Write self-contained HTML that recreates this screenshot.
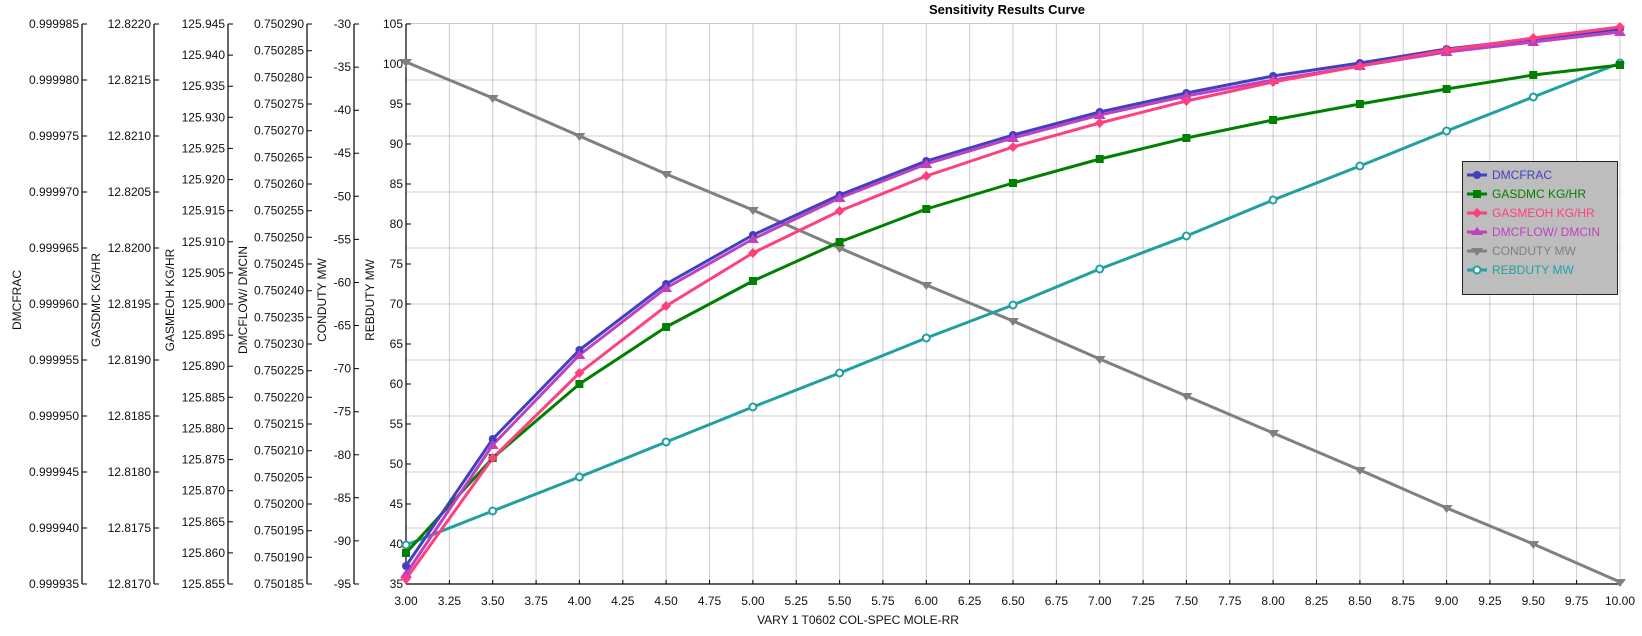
<!DOCTYPE html>
<html><head><meta charset="utf-8"><style>
html,body{margin:0;padding:0;background:#fff;}
svg{display:block;font-family:"Liberation Sans",sans-serif;}
</style></head><body>
<svg width="1642" height="636" viewBox="0 0 1642 636" xmlns="http://www.w3.org/2000/svg">
<rect width="1642" height="636" fill="#fff"/>
<text x="1007" y="14" text-anchor="middle" font-size="13" font-weight="bold">Sensitivity Results Curve</text>
<!-- grid -->
<g stroke="#cccccc" stroke-width="1">
<line x1="449.4" y1="23" x2="449.4" y2="584"/><line x1="492.7" y1="23" x2="492.7" y2="584"/><line x1="536.1" y1="23" x2="536.1" y2="584"/><line x1="579.4" y1="23" x2="579.4" y2="584"/><line x1="622.8" y1="23" x2="622.8" y2="584"/><line x1="666.1" y1="23" x2="666.1" y2="584"/><line x1="709.5" y1="23" x2="709.5" y2="584"/><line x1="752.9" y1="23" x2="752.9" y2="584"/><line x1="796.2" y1="23" x2="796.2" y2="584"/><line x1="839.6" y1="23" x2="839.6" y2="584"/><line x1="882.9" y1="23" x2="882.9" y2="584"/><line x1="926.3" y1="23" x2="926.3" y2="584"/><line x1="969.6" y1="23" x2="969.6" y2="584"/><line x1="1013" y1="23" x2="1013" y2="584"/><line x1="1056.4" y1="23" x2="1056.4" y2="584"/><line x1="1099.7" y1="23" x2="1099.7" y2="584"/><line x1="1143.1" y1="23" x2="1143.1" y2="584"/><line x1="1186.4" y1="23" x2="1186.4" y2="584"/><line x1="1229.8" y1="23" x2="1229.8" y2="584"/><line x1="1273.1" y1="23" x2="1273.1" y2="584"/><line x1="1316.5" y1="23" x2="1316.5" y2="584"/><line x1="1359.9" y1="23" x2="1359.9" y2="584"/><line x1="1403.2" y1="23" x2="1403.2" y2="584"/><line x1="1446.6" y1="23" x2="1446.6" y2="584"/><line x1="1489.9" y1="23" x2="1489.9" y2="584"/><line x1="1533.3" y1="23" x2="1533.3" y2="584"/><line x1="1576.6" y1="23" x2="1576.6" y2="584"/><line x1="1620" y1="23" x2="1620" y2="584"/>
<line x1="406" y1="23.5" x2="1620" y2="23.5"/><line x1="406" y1="80" x2="1620" y2="80"/><line x1="406" y1="136" x2="1620" y2="136"/><line x1="406" y1="192" x2="1620" y2="192"/><line x1="406" y1="248" x2="1620" y2="248"/><line x1="406" y1="304" x2="1620" y2="304"/><line x1="406" y1="360" x2="1620" y2="360"/><line x1="406" y1="416" x2="1620" y2="416"/><line x1="406" y1="472" x2="1620" y2="472"/><line x1="406" y1="528" x2="1620" y2="528"/>
</g>
<!-- axes -->
<g stroke="#000" stroke-width="1.2" fill="none">
<line x1="82" y1="24" x2="82" y2="584"/><line x1="154" y1="24" x2="154" y2="584"/><line x1="228" y1="24" x2="228" y2="584"/><line x1="307" y1="24" x2="307" y2="584"/><line x1="354" y1="24" x2="354" y2="584"/><line x1="406" y1="24" x2="406" y2="584"/>
<line x1="406" y1="584" x2="1620" y2="584"/>
</g>
<!-- ticks -->
<g stroke="#000" stroke-width="1">
<path d="M82 24h5M82 80h5M82 136h5M82 192h5M82 248h5M82 304h5M82 360h5M82 416h5M82 472h5M82 528h5M82 584h5"/>
<path d="M154 24h5M154 80h5M154 136h5M154 192h5M154 248h5M154 304h5M154 360h5M154 416h5M154 472h5M154 528h5M154 584h5"/>
<path d="M228 24h5M228 55.1h5M228 86.2h5M228 117.3h5M228 148.4h5M228 179.6h5M228 210.7h5M228 241.8h5M228 272.9h5M228 304h5M228 335.1h5M228 366.2h5M228 397.3h5M228 428.4h5M228 459.6h5M228 490.7h5M228 521.8h5M228 552.9h5M228 584h5"/>
<path d="M307 24h5M307 50.7h5M307 77.3h5M307 104h5M307 130.7h5M307 157.3h5M307 184h5M307 210.7h5M307 237.3h5M307 264h5M307 290.7h5M307 317.3h5M307 344h5M307 370.7h5M307 397.3h5M307 424h5M307 450.7h5M307 477.3h5M307 504h5M307 530.7h5M307 557.3h5M307 584h5"/>
<path d="M354 24h5M354 67.1h5M354 110.2h5M354 153.2h5M354 196.3h5M354 239.4h5M354 282.5h5M354 325.5h5M354 368.6h5M354 411.7h5M354 454.8h5M354 497.8h5M354 540.9h5M354 584h5"/>
<path d="M406 24h5M406 64h5M406 104h5M406 144h5M406 184h5M406 224h5M406 264h5M406 304h5M406 344h5M406 384h5M406 424h5M406 464h5M406 504h5M406 544h5M406 584h5"/>
<path d="M449.4 584v-4M492.7 584v-4M536.1 584v-4M579.4 584v-4M622.8 584v-4M666.1 584v-4M709.5 584v-4M752.9 584v-4M796.2 584v-4M839.6 584v-4M882.9 584v-4M926.3 584v-4M969.6 584v-4M1013 584v-4M1056.4 584v-4M1099.7 584v-4M1143.1 584v-4M1186.4 584v-4M1229.8 584v-4M1273.1 584v-4M1316.5 584v-4M1359.9 584v-4M1403.2 584v-4M1446.6 584v-4M1489.9 584v-4M1533.3 584v-4M1576.6 584v-4"/>
</g>
<g font-size="12" fill="#111" text-anchor="end">
<g transform="translate(79,4)"><text y="24">0.999985</text><text y="80">0.999980</text><text y="136">0.999975</text><text y="192">0.999970</text><text y="248">0.999965</text><text y="304">0.999960</text><text y="360">0.999955</text><text y="416">0.999950</text><text y="472">0.999945</text><text y="528">0.999940</text><text y="584">0.999935</text></g>
<g transform="translate(151,4)"><text y="24">12.8220</text><text y="80">12.8215</text><text y="136">12.8210</text><text y="192">12.8205</text><text y="248">12.8200</text><text y="304">12.8195</text><text y="360">12.8190</text><text y="416">12.8185</text><text y="472">12.8180</text><text y="528">12.8175</text><text y="584">12.8170</text></g>
<g transform="translate(225,4)"><text y="24">125.945</text><text y="55.1">125.940</text><text y="86.2">125.935</text><text y="117.3">125.930</text><text y="148.4">125.925</text><text y="179.6">125.920</text><text y="210.7">125.915</text><text y="241.8">125.910</text><text y="272.9">125.905</text><text y="304">125.900</text><text y="335.1">125.895</text><text y="366.2">125.890</text><text y="397.3">125.885</text><text y="428.4">125.880</text><text y="459.6">125.875</text><text y="490.7">125.870</text><text y="521.8">125.865</text><text y="552.9">125.860</text><text y="584">125.855</text></g>
<g transform="translate(304,4)"><text y="24">0.750290</text><text y="50.7">0.750285</text><text y="77.3">0.750280</text><text y="104">0.750275</text><text y="130.7">0.750270</text><text y="157.3">0.750265</text><text y="184">0.750260</text><text y="210.7">0.750255</text><text y="237.3">0.750250</text><text y="264">0.750245</text><text y="290.7">0.750240</text><text y="317.3">0.750235</text><text y="344">0.750230</text><text y="370.7">0.750225</text><text y="397.3">0.750220</text><text y="424">0.750215</text><text y="450.7">0.750210</text><text y="477.3">0.750205</text><text y="504">0.750200</text><text y="530.7">0.750195</text><text y="557.3">0.750190</text><text y="584">0.750185</text></g>
<g transform="translate(351,4)"><text y="24">-30</text><text y="67.1">-35</text><text y="110.2">-40</text><text y="153.2">-45</text><text y="196.3">-50</text><text y="239.4">-55</text><text y="282.5">-60</text><text y="325.5">-65</text><text y="368.6">-70</text><text y="411.7">-75</text><text y="454.8">-80</text><text y="497.8">-85</text><text y="540.9">-90</text><text y="584">-95</text></g>
<g transform="translate(403,4)"><text y="24">105</text><text y="64">100</text><text y="104">95</text><text y="144">90</text><text y="184">85</text><text y="224">80</text><text y="264">75</text><text y="304">70</text><text y="344">65</text><text y="384">60</text><text y="424">55</text><text y="464">50</text><text y="504">45</text><text y="544">40</text><text y="584">35</text></g>
</g>
<g font-size="12" fill="#111" text-anchor="middle">
<text x="406" y="605">3.00</text><text x="449.4" y="605">3.25</text><text x="492.7" y="605">3.50</text><text x="536.1" y="605">3.75</text><text x="579.4" y="605">4.00</text><text x="622.8" y="605">4.25</text><text x="666.1" y="605">4.50</text><text x="709.5" y="605">4.75</text><text x="752.9" y="605">5.00</text><text x="796.2" y="605">5.25</text><text x="839.6" y="605">5.50</text><text x="882.9" y="605">5.75</text><text x="926.3" y="605">6.00</text><text x="969.6" y="605">6.25</text><text x="1013" y="605">6.50</text><text x="1056.4" y="605">6.75</text><text x="1099.7" y="605">7.00</text><text x="1143.1" y="605">7.25</text><text x="1186.4" y="605">7.50</text><text x="1229.8" y="605">7.75</text><text x="1273.1" y="605">8.00</text><text x="1316.5" y="605">8.25</text><text x="1359.9" y="605">8.50</text><text x="1403.2" y="605">8.75</text><text x="1446.6" y="605">9.00</text><text x="1489.9" y="605">9.25</text><text x="1533.3" y="605">9.50</text><text x="1576.6" y="605">9.75</text><text x="1620" y="605">10.00</text>
<text x="858" y="624">VARY   1 T0602 COL-SPEC MOLE-RR</text>
<text transform="translate(21,300) rotate(-90)">DMCFRAC</text>
<text transform="translate(100,300) rotate(-90)">GASDMC KG/HR</text>
<text transform="translate(174,300) rotate(-90)">GASMEOH KG/HR</text>
<text transform="translate(247,300) rotate(-90)">DMCFLOW/ DMCIN</text>
<text transform="translate(326,300) rotate(-90)">CONDUTY MW</text>
<text transform="translate(374,300) rotate(-90)">REBDUTY MW</text>
</g>
<!-- series -->
<g fill="none" stroke-width="3" stroke-linejoin="round">
<polyline stroke="#808080" points="406,62 492.7,98 579.4,136 666.1,174 752.9,210 839.6,248 926.3,285 1013,321 1099.7,359 1186.4,396 1273.1,433 1359.9,470 1446.6,508 1533.3,544 1620,582"/>
<polyline stroke="#20a0a0" points="406,545 492.7,511 579.4,477 666.1,442 752.9,407 839.6,373 926.3,338 1013,305 1099.7,269 1186.4,236 1273.1,200 1359.9,166 1446.6,131 1533.3,97 1620,63"/>
<polyline stroke="#008000" points="406,553 492.7,458 579.4,384 666.1,327 752.9,281 839.6,242 926.3,209 1013,183 1099.7,159 1186.4,138 1273.1,120 1359.9,104 1446.6,89 1533.3,75 1620,65"/>
<polyline stroke="#4040c0" points="406,566 492.7,439 579.4,350 666.1,284 752.9,235 839.6,195 926.3,161 1013,135 1099.7,112 1186.4,93 1273.1,76 1359.9,63 1446.6,49 1533.3,39 1620,29"/>
<polyline stroke="#c040c0" points="406,574 492.7,445 579.4,355 666.1,288 752.9,239 839.6,198 926.3,164 1013,138 1099.7,115 1186.4,96 1273.1,80 1359.9,66 1446.6,52 1533.3,42 1620,32"/>
<polyline stroke="#ff4080" points="406,579 492.7,458 579.4,373 666.1,306 752.9,253 839.6,211 926.3,176 1013,147 1099.7,123 1186.4,101 1273.1,82 1359.9,66 1446.6,50 1533.3,38 1620,27"/>
</g>
<!-- markers -->
<g fill="#808080"><path d="M400,59h12l-6,8zM486.7,95h12l-6,8zM573.4,133h12l-6,8zM660.1,171h12l-6,8zM746.9,207h12l-6,8zM833.6,245h12l-6,8zM920.3,282h12l-6,8zM1007,318h12l-6,8zM1093.7,356h12l-6,8zM1180.4,393h12l-6,8zM1267.1,430h12l-6,8zM1353.9,467h12l-6,8zM1440.6,505h12l-6,8zM1527.3,541h12l-6,8zM1614,579h12l-6,8z"/></g>
<g fill="#fff" stroke="#20a0a0" stroke-width="2"><circle cx="406" cy="545" r="3.5"/><circle cx="492.7" cy="511" r="3.5"/><circle cx="579.4" cy="477" r="3.5"/><circle cx="666.1" cy="442" r="3.5"/><circle cx="752.9" cy="407" r="3.5"/><circle cx="839.6" cy="373" r="3.5"/><circle cx="926.3" cy="338" r="3.5"/><circle cx="1013" cy="305" r="3.5"/><circle cx="1099.7" cy="269" r="3.5"/><circle cx="1186.4" cy="236" r="3.5"/><circle cx="1273.1" cy="200" r="3.5"/><circle cx="1359.9" cy="166" r="3.5"/><circle cx="1446.6" cy="131" r="3.5"/><circle cx="1533.3" cy="97" r="3.5"/><circle cx="1620" cy="63" r="3.5"/></g>
<g fill="#008000"><rect x="402" y="549" width="8" height="8"/><rect x="488.7" y="454" width="8" height="8"/><rect x="575.4" y="380" width="8" height="8"/><rect x="662.1" y="323" width="8" height="8"/><rect x="748.9" y="277" width="8" height="8"/><rect x="835.6" y="238" width="8" height="8"/><rect x="922.3" y="205" width="8" height="8"/><rect x="1009" y="179" width="8" height="8"/><rect x="1095.7" y="155" width="8" height="8"/><rect x="1182.4" y="134" width="8" height="8"/><rect x="1269.1" y="116" width="8" height="8"/><rect x="1355.9" y="100" width="8" height="8"/><rect x="1442.6" y="85" width="8" height="8"/><rect x="1529.3" y="71" width="8" height="8"/><rect x="1616" y="61" width="8" height="8"/></g>
<g fill="#4040c0"><circle cx="406" cy="566" r="4"/><circle cx="492.7" cy="439" r="4"/><circle cx="579.4" cy="350" r="4"/><circle cx="666.1" cy="284" r="4"/><circle cx="752.9" cy="235" r="4"/><circle cx="839.6" cy="195" r="4"/><circle cx="926.3" cy="161" r="4"/><circle cx="1013" cy="135" r="4"/><circle cx="1099.7" cy="112" r="4"/><circle cx="1186.4" cy="93" r="4"/><circle cx="1273.1" cy="76" r="4"/><circle cx="1359.9" cy="63" r="4"/><circle cx="1446.6" cy="49" r="4"/><circle cx="1533.3" cy="39" r="4"/><circle cx="1620" cy="29" r="4"/></g>
<g fill="#c040c0"><path d="M400,578l6,-9l6,9zM486.7,449l6,-9l6,9zM573.4,359l6,-9l6,9zM660.1,292l6,-9l6,9zM746.9,243l6,-9l6,9zM833.6,202l6,-9l6,9zM920.3,168l6,-9l6,9zM1007,142l6,-9l6,9zM1093.7,119l6,-9l6,9zM1180.4,100l6,-9l6,9zM1267.1,84l6,-9l6,9zM1353.9,70l6,-9l6,9zM1440.6,56l6,-9l6,9zM1527.3,46l6,-9l6,9zM1614,36l6,-9l6,9z"/></g>
<g fill="#ff4080"><path d="M406,574l5,5l-5,5l-5,-5zM492.7,453l5,5l-5,5l-5,-5zM579.4,368l5,5l-5,5l-5,-5zM666.1,301l5,5l-5,5l-5,-5zM752.9,248l5,5l-5,5l-5,-5zM839.6,206l5,5l-5,5l-5,-5zM926.3,171l5,5l-5,5l-5,-5zM1013,142l5,5l-5,5l-5,-5zM1099.7,118l5,5l-5,5l-5,-5zM1186.4,96l5,5l-5,5l-5,-5zM1273.1,77l5,5l-5,5l-5,-5zM1359.9,61l5,5l-5,5l-5,-5zM1446.6,45l5,5l-5,5l-5,-5zM1533.3,33l5,5l-5,5l-5,-5zM1620,22l5,5l-5,5l-5,-5z"/></g>
<!-- legend -->
<rect x="1462.5" y="161.5" width="155" height="133" fill="#bdbdbd" stroke="#222" stroke-width="1"/>
<g stroke-width="3">
<line x1="1467" y1="175" x2="1487" y2="175" stroke="#4040c0"/><circle cx="1477" cy="175" r="4" fill="#4040c0"/>
<line x1="1467" y1="194" x2="1487" y2="194" stroke="#008000"/><rect x="1473" y="190" width="8" height="8" fill="#008000" stroke="none"/>
<line x1="1467" y1="213" x2="1487" y2="213" stroke="#ff4080"/><path d="M1477,208l5,5l-5,5l-5,-5z" fill="#ff4080" stroke="none"/>
<line x1="1467" y1="232" x2="1487" y2="232" stroke="#c040c0"/><path d="M1471,235l6,-8l6,8z" fill="#c040c0" stroke="none"/>
<line x1="1467" y1="251" x2="1487" y2="251" stroke="#808080"/><path d="M1471,248h12l-6,8z" fill="#808080" stroke="none"/>
<line x1="1467" y1="270" x2="1487" y2="270" stroke="#20a0a0"/><circle cx="1477" cy="270" r="3.5" fill="#fff" stroke="#20a0a0" stroke-width="2"/>
</g>
<g font-size="12">
<text x="1492" y="179" fill="#4040c0">DMCFRAC</text>
<text x="1492" y="198" fill="#008000">GASDMC KG/HR</text>
<text x="1492" y="217" fill="#ff4080">GASMEOH KG/HR</text>
<text x="1492" y="236" fill="#c040c0">DMCFLOW/ DMCIN</text>
<text x="1492" y="255" fill="#808080">CONDUTY MW</text>
<text x="1492" y="274" fill="#20a0a0">REBDUTY MW</text>
</g>
</svg>
</body></html>
